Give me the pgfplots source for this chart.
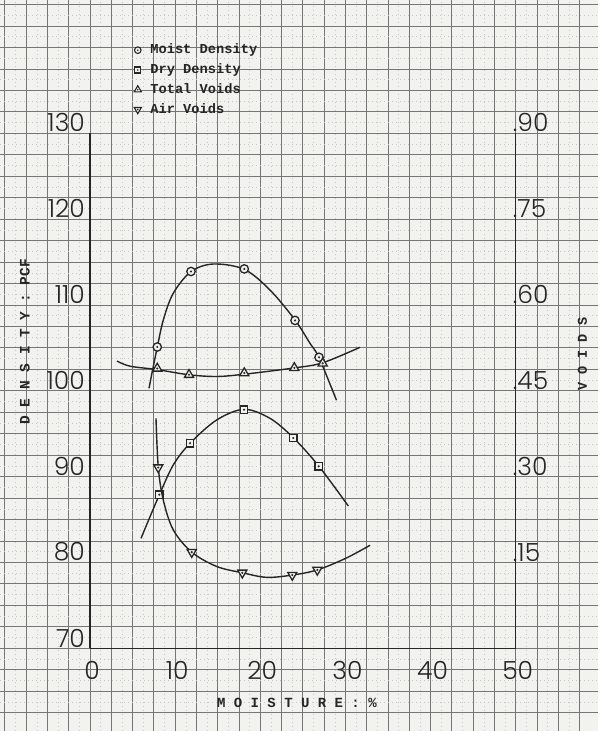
\documentclass[border=0pt]{standalone}
\usepackage{fontspec}
\usepackage{pgfplots}
\pgfplotsset{compat=1.18}
\IfFontExistsTF{Poppins Light}{\newfontfamily\tickfont{Poppins Light}}{\newfontfamily\tickfont{Poppins}}
\newfontfamily\typefont{Liberation Mono}
\definecolor{paper}{HTML}{F2F2EF}
\definecolor{gridmaj}{HTML}{767676}
\definecolor{gridmin}{HTML}{C8C8C8}
\definecolor{ink}{HTML}{262626}

\newcommand\markdot{\begin{pgfscope}\pgfsetfillcolor{ink}\pgfpathcircle{\pgfpointorigin}{0.28\pgfplotmarksize}\pgfusepathqfill\end{pgfscope}}
\pgfdeclareplotmark{codot}{%
  \pgfpathcircle{\pgfpointorigin}{\pgfplotmarksize}\pgfusepathqfillstroke
  \markdot}
\pgfdeclareplotmark{sqdot}{%
  \pgfpathrectangle{\pgfpoint{-0.9\pgfplotmarksize}{-0.9\pgfplotmarksize}}{\pgfpoint{1.8\pgfplotmarksize}{1.8\pgfplotmarksize}}\pgfusepathqfillstroke
  \markdot}
\pgfdeclareplotmark{tridot}{%
  \pgfpathmoveto{\pgfpointpolar{90}{1.25\pgfplotmarksize}}%
  \pgfpathlineto{\pgfpointpolar{210}{1.25\pgfplotmarksize}}%
  \pgfpathlineto{\pgfpointpolar{330}{1.25\pgfplotmarksize}}%
  \pgfpathclose\pgfusepathqfillstroke
  \markdot}
\pgfdeclareplotmark{itridot}{%
  \pgfpathmoveto{\pgfpointpolar{270}{1.25\pgfplotmarksize}}%
  \pgfpathlineto{\pgfpointpolar{30}{1.25\pgfplotmarksize}}%
  \pgfpathlineto{\pgfpointpolar{150}{1.25\pgfplotmarksize}}%
  \pgfpathclose\pgfusepathqfillstroke
  \markdot}

\pgfplotsset{
  curve/.style={ink, line width=1.4pt, smooth, tension=0.55, no marks},
  pts/.style={only marks, mark=#1, mark size=4.2pt, draw=ink, fill=paper, line width=1.3pt},
  lgpts/.style={only marks, mark=#1, mark size=3.3pt, draw=ink, fill=paper, line width=1.1pt},
  tickfnt/.style={font=\tickfont\fontsize{25}{25}\selectfont, text=ink},
}

\begin{document}
\begin{tikzpicture}
% graph paper
\begin{axis}[at={(0pt,0pt)}, anchor=south west, scale only axis,
  width=598pt, height=731pt,
  xmin=-10.57, xmax=59.67, ymin=60.36, ymax=145.53,
  xtick={-10,-7.5,...,57.5}, ytick={62.5,65,...,145},
  minor tick num=1, grid=both,
  major grid style={gridmaj, line width=0.8pt},
  minor grid style={gridmin, line width=0.5pt, dash pattern=on 1pt off 3pt},
  xticklabels={}, yticklabels={}, tick style={draw=none},
  axis line style={draw=none}, axis background/.style={fill=paper}]
\end{axis}

% density axis
\begin{axis}[at={(90pt,82.7pt)}, anchor=south west, scale only axis,
  width=425.7pt, height=515pt,
  xmin=0, xmax=50, ymin=70, ymax=130,
  axis x line*=bottom, axis y line*=left, clip=false,
  axis line style={ink, line width=1.4pt, -},
  tick style={draw=none},
  xtick={0,10,...,50}, xticklabels={0,10,20,30,40,50},
  ytick={70,80,...,130}, yticklabels={70,80,90,100,110,120,130},
  xticklabel style={tickfnt, anchor=north, inner sep=0pt, yshift=-13pt, xshift=2pt},
  yticklabel style={tickfnt, anchor=south east, inner sep=0pt, xshift=-5pt, yshift=1pt},
  xlabel={M O I S T U R E : \%},
  xlabel style={at={(axis description cs:0.486,-0.106)}, anchor=center,
    font=\typefont\bfseries\fontsize{14}{14}\selectfont, text=ink},
  ylabel={D E N S I T Y : PCF},
  ylabel style={at={(axis description cs:-0.153,0.595)}, anchor=center,
    font=\typefont\bfseries\fontsize{14.5}{14.5}\selectfont, text=ink},
]
% Moist density curve and points
\addplot[curve] coordinates {(6.93,100.29) (7.43,102.81) (7.90,105.07) (8.61,108.25) (9.78,111.36) (11.86,113.88) (14.48,114.77) (18.12,114.15) (21.14,111.74) (24.08,108.25) (25.84,105.53) (26.90,103.86) (28.95,98.9)};
\addplot[pts=codot] coordinates {(7.90,105.1) (11.86,113.9) (18.12,114.2) (24.08,108.2) (26.90,103.9)};
% Dry density curve and points
\addplot[curve] coordinates {(5.99,82.81) (7.05,85.33) (8.14,87.86) (9.78,91.36) (11.75,93.88) (14.88,96.60) (18.09,97.84) (21.14,96.79) (23.88,94.53) (26.86,91.24) (30.34,86.58)};
\addplot[pts=sqdot] coordinates {(8.14,87.9) (11.75,93.9) (18.09,97.8) (23.88,94.5) (26.86,91.2)};
\end{axis}

% voids axis
\begin{axis}[at={(90pt,82.7pt)}, anchor=south west, scale only axis,
  width=425.7pt, height=515pt,
  xmin=0, xmax=50, ymin=0, ymax=0.9,
  axis x line=none, axis y line*=right, clip=false,
  axis line style={ink, line width=1.4pt, -},
  tick style={draw=none},
  ytick={0.15,0.30,0.45,0.60,0.75,0.90}, yticklabels={.15,.30,.45,.60,.75,.90},
  yticklabel style={tickfnt, anchor=south west, inner sep=0pt, xshift=-3pt, yshift=1pt},
  after end axis/.code={%
    \node[rotate=90, anchor=center, font=\typefont\bfseries\fontsize{13.5}{13.5}\selectfont, text=ink]
      at (axis description cs:1.157,0.571) {V O I D S};},
  legend style={draw=none, fill=none, inner sep=0pt,
    at={(axis description cs:0.1034,1.1744)}, anchor=north west,
    font=\typefont\bfseries\fontsize{13.7}{14}\selectfont, text=ink,
    row sep=6.8pt,
    nodes={inner sep=0pt, text height=10pt, text depth=3pt}},
  legend cell align=left,
  legend image code/.code={\draw[#1] plot coordinates {(0pt,0pt)};},
]
\addlegendimage{lgpts=codot}
\addlegendentry{\hspace{9pt}Moist Density}
\addlegendimage{lgpts=sqdot}
\addlegendentry{\hspace{9pt}Dry Density}
\addlegendimage{lgpts=tridot}
\addlegendentry{\hspace{9pt}Total Voids}
\addlegendimage{lgpts=itridot}
\addlegendentry{\hspace{9pt}Air Voids}
% Total voids
\addplot[curve, forget plot] coordinates {(3.17,0.502) (4.70,0.493) (7.90,0.487) (11.63,0.478) (14.88,0.475) (18.12,0.479) (24.0,0.490) (27.33,0.499) (31.71,0.526)};
\addplot[pts=tridot, forget plot] coordinates {(7.90,0.489) (11.63,0.478) (18.12,0.481) (24.0,0.490) (27.33,0.498)};
% Air voids
\addplot[curve, forget plot] coordinates {(7.75,0.402) (8.02,0.316) (8.61,0.259) (9.78,0.207) (11.95,0.168) (14.88,0.143) (17.89,0.132) (20.75,0.124) (23.76,0.128) (26.7,0.137) (30.0,0.157) (32.89,0.180)};
\addplot[pts=itridot, forget plot] coordinates {(8.02,0.316) (11.95,0.168) (17.89,0.132) (23.76,0.128) (26.7,0.137)};
\end{axis}
\pgfresetboundingbox
\path[use as bounding box] (0pt,0pt) rectangle (598pt,731pt);
\end{tikzpicture}
\end{document}
